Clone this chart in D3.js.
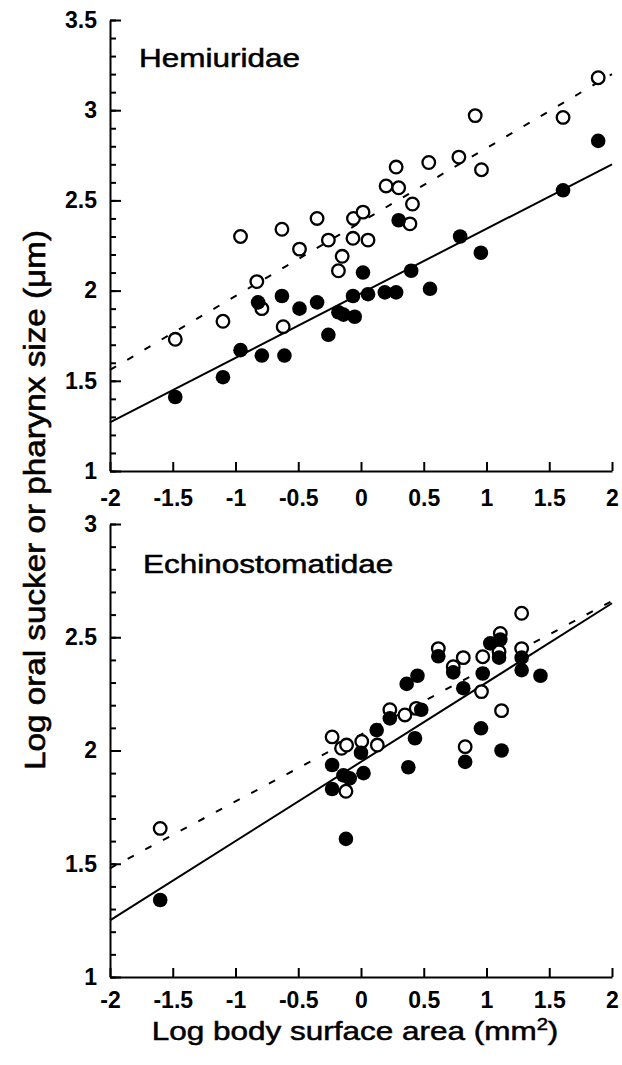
<!DOCTYPE html>
<html>
<head>
<meta charset="utf-8">
<script src="https://cdn.jsdelivr.net/npm/d3@7"></script>
<style>
  body { margin: 0; background: #fff; }
  text { font-family: "Liberation Sans", Arial, Helvetica, sans-serif; fill: #000; }
</style>
</head>
<body>
<div id="chart"></div>
<script>
// Tick values
const xTickValues = [-2, -1.5, -1, -0.5, 0, 0.5, 1, 1.5, 2];
const hemiYTicks = [1, 1.5, 2, 2.5, 3, 3.5];
const echinoYTicks = [1, 1.5, 2, 2.5, 3];

// Hemiuridae: open = one organ, filled = the other
const hemiOpen = [
  [-1.48, 1.73], [-1.10, 1.83], [-0.96, 2.30], [-0.83, 2.05], [-0.79, 1.90],
  [-0.63, 2.34], [-0.62, 1.80], [-0.49, 2.23], [-0.35, 2.40], [-0.26, 2.28],
  [-0.18, 2.11], [-0.15, 2.19], [-0.064, 2.29], [-0.06, 2.40], [0.016, 2.435],
  [0.056, 2.28], [0.20, 2.58], [0.28, 2.685], [0.30, 2.57], [0.39, 2.37],
  [0.41, 2.48], [0.54, 2.71], [0.78, 2.74], [0.91, 2.97], [0.96, 2.67],
  [1.61, 2.96], [1.89, 3.18]
];
const hemiFilled = [
  [-1.48, 1.41], [-1.10, 1.52], [-0.96, 1.67], [-0.82, 1.935], [-0.79, 1.64],
  [-0.63, 1.97], [-0.61, 1.64], [-0.49, 1.90], [-0.35, 1.935], [-0.26, 1.755],
  [-0.18, 1.88], [-0.14, 1.867], [-0.064, 1.97], [-0.05, 1.855], [0.016, 2.10],
  [0.056, 1.98], [0.19, 1.99], [0.28, 1.99], [0.30, 2.39], [0.40, 2.11],
  [0.55, 2.01], [0.79, 2.30], [0.955, 2.21], [1.61, 2.556], [1.89, 2.83]
];
const hemiSolid = [[-2, 1.27], [2, 2.70]];
const hemiDashed = [[-2, 1.56], [2, 3.20]];

// Echinostomatidae
const echinoOpen = [
  [-1.60, 1.656], [-0.23, 2.06], [-0.155, 2.01], [-0.115, 2.024], [-0.12, 1.82],
  [0.006, 2.04], [0.13, 2.024], [0.23, 2.18], [0.35, 2.157], [0.44, 2.186],
  [0.616, 2.45], [0.735, 2.37], [0.815, 2.41], [0.83, 2.017], [0.96, 2.26],
  [0.97, 2.414], [1.10, 2.436], [1.11, 2.517], [1.12, 2.176], [1.28, 2.45],
  [1.28, 2.606]
];
const echinoFilled = [
  [-1.60, 1.34], [-0.23, 1.936], [-0.23, 1.83], [-0.14, 1.89], [-0.12, 1.61],
  [-0.09, 1.877], [0.0, 1.99], [0.02, 1.90], [0.125, 2.09], [0.23, 2.142],
  [0.364, 2.294], [0.377, 1.926], [0.43, 2.054], [0.45, 2.33], [0.48, 2.18],
  [0.616, 2.416], [0.735, 2.345], [0.815, 2.275], [0.83, 1.95], [0.956, 2.098],
  [0.97, 2.34], [1.03, 2.473], [1.10, 2.41], [1.11, 2.49], [1.12, 2.0],
  [1.28, 2.41], [1.28, 2.355], [1.43, 2.33]
];
const echinoSolid = [[-2, 1.25], [2, 2.65]];
const echinoDashed = [[-2, 1.48], [2, 2.66]];

const width = 622;
const height = 1065;

const svg = d3.select("#chart")
  .append("svg")
  .attr("width", width)
  .attr("height", height);

const x = d3.scaleLinear().domain([-2, 2]).range([110, 612]);

const panels = [
  {
    title: "Hemiuridae", titleX: 139, titleY: 67,
    y: d3.scaleLinear().domain([1, 3.5]).range([471, 20]),
    yTicks: hemiYTicks, open: hemiOpen, filled: hemiFilled,
    solid: hemiSolid, dashed: hemiDashed, xPad: 19
  },
  {
    title: "Echinostomatidae", titleX: 143, titleY: 573,
    y: d3.scaleLinear().domain([1, 3]).range([977, 524]),
    yTicks: echinoYTicks, open: echinoOpen, filled: echinoFilled,
    solid: echinoSolid, dashed: echinoDashed, xPad: 15
  }
];

const line = (y) => d3.line().x((d) => x(d[0])).y((d) => y(d[1]));

panels.forEach((p) => {
  const g = svg.append("g");
  const y = p.y;
  const [y0, y1] = y.domain();
  const bottom = y.range()[0];

  // minor y ticks every 0.1
  const minor = d3.range(Math.round(y0 * 10), Math.round(y1 * 10) + 1).map((v) => v / 10);
  g.append("g")
    .attr("transform", "translate(110,0)")
    .call(d3.axisLeft(y).tickValues(minor).tickSizeInner(-6).tickSizeOuter(0).tickFormat(""))
    .call((a) => a.select(".domain").remove());

  // major y ticks with labels
  g.append("g")
    .attr("transform", "translate(110,0)")
    .call(d3.axisLeft(y).tickValues(p.yTicks).tickSizeInner(-11).tickSizeOuter(0)
      .tickPadding(13).tickFormat((d) => String(d)));

  // x axis
  g.append("g")
    .attr("transform", `translate(0,${bottom})`)
    .call(d3.axisBottom(x).tickValues(xTickValues).tickSizeInner(-9).tickSizeOuter(0)
      .tickPadding(p.xPad).tickFormat((d) => String(d)));

  g.selectAll(".domain, .tick line").attr("stroke", "#000").attr("stroke-width", 2);
  g.selectAll(".tick text")
    .attr("font-size", 23)
    .attr("font-weight", "bold")
    .style("font-family", '"Liberation Sans", Arial, sans-serif');

  // regression lines
  g.append("path")
    .datum(p.solid)
    .attr("d", line(y))
    .attr("fill", "none")
    .attr("stroke", "#000")
    .attr("stroke-width", 2);

  g.append("path")
    .datum(p.dashed)
    .attr("d", line(y))
    .attr("fill", "none")
    .attr("stroke", "#000")
    .attr("stroke-width", 2)
    .attr("stroke-dasharray", "7,13");

  // points: open first, filled drawn over them
  g.selectAll(".open")
    .data(p.open)
    .enter()
    .append("circle")
    .attr("class", "open")
    .attr("cx", (d) => x(d[0]))
    .attr("cy", (d) => y(d[1]))
    .attr("r", 6.3)
    .attr("fill", "#fff")
    .attr("stroke", "#000")
    .attr("stroke-width", 2.3);

  g.selectAll(".filled")
    .data(p.filled)
    .enter()
    .append("circle")
    .attr("class", "filled")
    .attr("cx", (d) => x(d[0]))
    .attr("cy", (d) => y(d[1]))
    .attr("r", 7.3)
    .attr("fill", "#000");

  // panel title
  g.append("text")
    .attr("transform", `translate(${p.titleX},${p.titleY}) scale(1.26,1)`)
    .attr("font-size", 25)
    .attr("stroke", "#000")
    .attr("stroke-width", 0.5)
    .text(p.title);
});

// x axis title
const xTitle = svg.append("text")
  .attr("transform", "translate(355,1040) scale(1.26,1)")
  .attr("text-anchor", "middle")
  .attr("font-size", 25)
  .attr("stroke", "#000")
  .attr("stroke-width", 0.5);
xTitle.append("tspan").text("Log body surface area (mm");
xTitle.append("tspan").attr("dy", -10).attr("font-size", 16).text("2");
xTitle.append("tspan").attr("dy", 10).text(")");

// y axis title
svg.append("text")
  .attr("transform", "translate(45,500) rotate(-90) scale(1,1.26)")
  .attr("text-anchor", "middle")
  .attr("font-size", 24)
  .attr("textLength", 540)
  .attr("lengthAdjust", "spacingAndGlyphs")
  .attr("stroke", "#000")
  .attr("stroke-width", 0.5)
  .text("Log oral sucker or pharynx size (μm)");
</script>
</body>
</html>
